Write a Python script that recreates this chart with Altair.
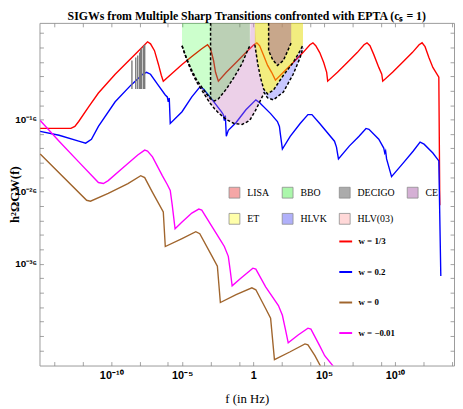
import altair as alt
import pandas as pd

TITLE = "SIGWs from Multiple Sharp Transitions confronted with EPTA (cₛ = 1)"
X_TITLE = "f (in Hz)"
Y_TITLE = "h²ΩGW(f)"

# axis ranges (log10 f, log10 h^2 Omega)
X_DOMAIN = [-15.05, 14.15]
Y_DOMAIN = [-50.1, -2.6]
TOP = -2.6

X_MAJOR = [-10, -5, 0, 5, 10]
X_MINOR = [-14, -12, -8, -6, -3, -1, 2, 4, 7, 9, 12, 14]
Y_MAJOR = [-16, -26, -36]
Y_MINOR = [-4, -6, -8, -10, -12, -14, -18, -20, -22, -24, -28, -30, -32, -34,
           -38, -40, -42, -44, -46, -48]

# ---- SIGW spectra (log10 f, log10 h^2 Omega_GW) ----
W_LABELS = ["w = 1/3", "w = 0.2", "w = 0", "w = −0.01"]
W_COLORS = ["#ff0000", "#0000ff", "#a0652d", "#ff00ff"]

RED_X = [-15.0, -12.84, -12.56, -12.29, -11.59, -10.90, -9.72, -8.61, -7.78, -7.44,
         -7.23, -6.95, -6.67, -6.47, -6.33, -5.70, -5.01, -4.32, -3.62, -3.21,
         -3.00, -2.79, -2.65, -2.45, -1.89, -1.20, -0.51, 0.05, 0.26, 0.46,
         0.74, 1.02, 1.30, 1.57, 2.13, 2.82, 3.51, 4.00, 4.21, 4.41,
         4.69, 4.97, 5.18, 5.25, 5.94, 6.63, 7.33, 7.81, 8.02, 8.23,
         8.50, 8.85, 9.06, 9.13, 9.82, 10.51, 11.21, 11.69, 11.90, 12.11,
         12.38, 12.66, 13.08, 13.15]
RED_Y = [-17.23, -17.23, -16.95, -16.27, -14.23, -12.32, -9.72, -7.54, -5.90, -5.22,
         -5.50, -6.45, -8.36, -9.86, -10.68, -9.59, -8.36, -7.27, -6.18, -5.63,
         -6.18, -7.81, -9.45, -10.68, -9.45, -8.09, -6.72, -5.63, -5.36, -5.77,
         -7.13, -8.50, -9.45, -10.54, -9.45, -8.09, -6.72, -5.63, -5.36, -5.77,
         -6.72, -8.09, -9.45, -10.68, -9.45, -8.09, -6.72, -5.63, -5.36, -5.77,
         -7.00, -8.77, -9.72, -10.68, -9.45, -8.09, -6.72, -5.63, -5.36, -5.90,
         -7.41, -8.77, -10.13, -27.87]

BLUE_X = [-15.0, -13.67, -12.29, -11.80, -11.39, -10.90, -9.72, -8.61, -7.78, -7.51,
          -7.23, -6.74, -6.19, -6.05, -5.98, -5.91, -5.84, -5.01, -4.32, -3.76,
          -3.49, -2.93, -2.24, -2.10, -2.03, -1.96, -1.89, -1.75, -1.20, -0.51,
          0.19, 0.46, 1.23, 1.71, 1.85, 1.92, 2.06, 2.61, 3.31, 3.86,
          4.14, 4.69, 5.73, 5.87, 5.94, 6.01, 6.77, 7.46, 7.95, 8.16,
          8.85, 9.20, 9.27, 9.33, 9.40, 9.75, 10.58, 11.28, 11.76, 12.04,
          12.66, 13.08, 13.22]
BLUE_Y = [-17.64, -18.18, -19.00, -19.27, -18.73, -16.95, -13.54, -11.23, -9.72, -9.45,
          -9.72, -11.09, -12.59, -12.86, -13.54, -13.00, -16.55, -14.91, -12.86, -11.50,
          -11.77, -13.14, -14.91, -15.32, -16.14, -15.45, -18.32, -17.50, -16.41, -14.64,
          -13.27, -13.68, -15.18, -16.27, -16.95, -18.05, -20.09, -18.32, -16.55, -15.32,
          -15.32, -16.55, -19.00, -19.82, -20.64, -21.46, -19.68, -18.32, -17.23, -17.36,
          -18.73, -19.96, -20.64, -20.36, -21.46, -23.91, -22.00, -20.36, -19.14, -19.41,
          -20.64, -21.73, -37.69]

BROWN_X = [-15.0, -11.73, -11.46, -10.21, -8.82, -7.92, -7.64, -7.09, -6.33, -6.19,
           -5.01, -4.04, -3.76, -2.93, -2.52, -2.31, -1.20, -0.09, 0.19, 0.88,
           1.23, 1.50, 2.61, 3.65, 3.86, 4.35, 4.76]
BROWN_Y = [-20.77, -27.19, -27.32, -26.23, -24.87, -23.78, -24.05, -26.09, -28.82, -33.60,
           -32.50, -31.55, -31.82, -34.82, -36.33, -41.37, -40.28, -39.32, -39.60, -42.19,
           -43.55, -49.28, -48.19, -47.10, -47.23, -48.74, -50.24]

MAG_X = [-15.0, -13.67, -12.29, -10.90, -10.55, -10.21, -9.17, -8.13, -7.64, -7.44,
         -7.09, -6.40, -6.05, -5.84, -5.70, -5.50, -5.01, -4.32, -3.83, -3.62,
         -2.93, -2.24, -2.03, -1.75, -1.61, -1.48, -0.85, -0.02, 0.19, 0.88,
         1.78, 2.06, 2.27, 2.47, 3.17, 3.86, 4.07, 4.69, 5.04, 5.66]
MAG_Y = [-16.14, -19.00, -21.87, -24.73, -24.87, -24.46, -22.68, -20.91, -20.23, -20.36,
         -21.18, -23.78, -25.00, -25.82, -27.87, -31.14, -30.19, -28.96, -28.41, -28.55,
         -30.73, -32.91, -33.60, -34.96, -37.00, -39.05, -37.96, -36.60, -36.73, -39.19,
         -41.78, -43.14, -45.05, -46.96, -45.87, -44.92, -45.05, -47.37, -48.74, -50.24]

# ---- EPTA-like grey bars ----
BAR_X = [-8.54, -8.27, -8.13, -7.99, -7.92, -7.85, -7.71, -7.64]
BAR_TOP = [-7.81, -7.41, -7.13, -6.72, -6.31, -6.04, -5.77, -5.63]
BAR_BOT = [-11.77] * 8

# ---- detector sensitivity regions ----
# legend fills column by column (2 rows): LISA/ET, BBO/HLVK, DECIGO/HLV(03), CE
DET_NAMES = ["LISA", "ET", "BBO", "HLVK", "DECIGO", "HLV(03)", "CE"]
DET_COLORS = ["#f5a6a6", "#ffffaa", "#abf7ab", "#b0b0fa", "#ababab", "#ffd8d8", "#d5b0d5"]

BBO_X = [-5.01, -4.66, -4.32, -3.97, -3.62, -3.28, -3.00, -2.72, -2.45, -1.89,
         -1.34, -0.78, -0.37, -0.23]
BBO_LO = [-5.77, -7.68, -9.18, -10.54, -11.50, -12.45, -13.14, -13.41, -13.14, -11.77,
          -10.13, -8.23, -6.31, -5.77]
DEC_X = BBO_X[6:]
DEC_LO = BBO_LO[6:]
CE_X = BBO_X + [-0.19, -0.09, 0.12, 0.33, 0.53, 0.74]
CE_LO = [-5.77, -7.81, -9.45, -10.82, -11.91, -13.00, -13.82, -14.50, -15.05, -16.00,
         -16.55, -16.68, -16.27, -16.00, -15.95, -15.59, -14.91, -14.09, -13.27, -12.45]
CE_HI = BBO_LO + [TOP, TOP, TOP, -8.36, -10.27, -11.77]
ET_X = [0.12, 0.33, 0.53, 0.74, 1.02, 1.43, 2.13, 2.82, 3.31, 3.51]
ET_LO = [-5.63, -8.36, -10.27, -11.77, -12.45, -11.91, -9.86, -8.09, -6.45, -5.63]
HLVK_X = [0.74, 1.02, 1.43, 2.13, 2.82, 3.31, 3.51]
HLVK_LO = [-12.18, -13.00, -13.27, -12.18, -9.72, -7.41, -6.04]
HLVK_HI = [-11.77, -12.45, -11.91, -9.86, -8.09, -6.45, -5.63]
LISA_X = [1.09, 1.37, 1.71, 2.13, 2.47, 2.68]
LISA_LO = [-6.45, -7.68, -8.50, -7.81, -6.31, -5.36]

# (name, x, lower, upper, fill, opacity) in drawing order
PATCHES = [
    ("CE", CE_X, CE_LO, CE_HI, "#c878be", 0.35),
    ("BBO", BBO_X, BBO_LO, [TOP] * len(BBO_X), "#00ff00", 0.2),
    ("DECIGO", DEC_X, DEC_LO, [TOP] * len(DEC_X), "#966482", 0.3),
    ("ET", ET_X, ET_LO, [TOP] * len(ET_X), "#e6dc00", 0.5),
    ("HLVK", HLVK_X, HLVK_LO, HLVK_HI, "#0000ff", 0.22),
    ("LISA", LISA_X, LISA_LO, [TOP] * len(LISA_X), "#9d6298", 0.5),
]

OUTLINES = [
    ("BBO", BBO_X, BBO_LO),
    ("DECIGO", [-3.00, -3.00], [TOP, -13.14]),
    ("CE", CE_X, CE_LO),
    ("ET", ET_X, ET_LO),
    ("HLVK", HLVK_X, HLVK_LO),
    ("LISA", [1.09] + LISA_X, [TOP] + LISA_LO),
]

# ---------------- build tables ----------------
def seq(name, xs, ys):
    return pd.DataFrame({"series": name, "lf": xs, "lo": ys, "idx": list(range(len(xs)))})

lines = pd.concat([
    seq(W_LABELS[0], RED_X, RED_Y),
    seq(W_LABELS[1], BLUE_X, BLUE_Y),
    seq(W_LABELS[2], BROWN_X, BROWN_Y),
    seq(W_LABELS[3], MAG_X, MAG_Y),
], ignore_index=True)

bars = pd.DataFrame({"lf": BAR_X, "top": BAR_TOP, "bot": BAR_BOT})
det_key = pd.DataFrame({"name": DET_NAMES, "lf": [100.0] * len(DET_NAMES), "lo": [100.0] * len(DET_NAMES)})

outline_df = pd.concat([
    pd.DataFrame({"grp": g, "lf": xs, "lo": ys, "idx": list(range(len(xs)))})
    for g, xs, ys in OUTLINES
], ignore_index=True)

xs = alt.Scale(domain=X_DOMAIN, nice=False, zero=False)
ys = alt.Scale(domain=Y_DOMAIN, nice=False, zero=False)

X_LABEL_EXPR = ("datum.value == -10 ? '10⁻¹⁰' : datum.value == -5 ? '10⁻⁵' : "
                "datum.value == 0 ? '1' : datum.value == 5 ? '10⁵' : '10¹⁰'")
Y_LABEL_EXPR = ("datum.value == -16 ? '10⁻¹⁶' : datum.value == -26 ? '10⁻²⁶' : '10⁻³⁶'")

x_main = alt.Axis(orient="bottom", values=X_MAJOR, labelExpr=X_LABEL_EXPR, ticks=False, tickSize=0,
                  domain=False, grid=False, title=X_TITLE, labelFont="Liberation Sans",
                  labelFontWeight="bold", labelFontSize=11, labelColor="black", labelPadding=4,
                  labelFlush=False, titleFont="Liberation Serif", titleFontSize=13,
                  titleFontWeight="normal", titleColor="black", titlePadding=13)
y_main = alt.Axis(orient="left", values=Y_MAJOR, labelExpr=Y_LABEL_EXPR, ticks=False, tickSize=0,
                  domain=False, grid=False, title=Y_TITLE, labelFont="Liberation Sans",
                  labelFontWeight="bold", labelFontSize=10, labelColor="black", labelPadding=3,
                  labelFlush=False, titleFont="Liberation Serif", titleFontSize=13,
                  titleFontWeight="bold", titleColor="black", titleX=-21,
                  titleBaseline="alphabetic")

def tick_axis(orient, values):
    return alt.Axis(orient=orient, values=values, offset=-4, labels=False, domain=False,
                    ticks=True, tickSize=4, tickColor="#8a8a8a", tickWidth=0.8,
                    grid=False, title=None)

line_layer = alt.Chart(lines).mark_line(strokeWidth=1.4, clip=True).encode(
    x=alt.X("lf:Q", scale=xs, axis=x_main),
    y=alt.Y("lo:Q", scale=ys, axis=y_main),
    color=alt.Color("series:N", scale=alt.Scale(domain=W_LABELS, range=W_COLORS),
                    legend=alt.Legend(title=None, orient="none", legendX=303, legendY=214,
                                      symbolType="stroke", symbolStrokeWidth=2, symbolSize=170,
                                      labelFont="Liberation Serif", labelFontWeight="bold",
                                      labelFontSize=9, labelColor="black", rowPadding=18,
                                      padding=0, labelOffset=5)),
    order="idx:Q",
)

bar_layer = alt.Chart(bars).mark_rule(color="#7a7a7a", strokeWidth=1.4).encode(
    x=alt.X("lf:Q", scale=xs, axis=tick_axis("bottom", X_MAJOR + X_MINOR)),
    y=alt.Y("top:Q", scale=ys, axis=tick_axis("left", Y_MAJOR + Y_MINOR)),
    y2="bot:Q",
)

patch_layers = []
for name, px, plo, phi, col, op in PATCHES:
    d = pd.DataFrame({"lf": px, "lo": plo, "hi": phi})
    patch_layers.append(
        alt.Chart(d).mark_area(color=col, fillOpacity=op, clip=True, interpolate="linear").encode(
            x=alt.X("lf:Q", scale=xs, axis=None),
            y=alt.Y("lo:Q", scale=ys, axis=None, stack=None),
            y2="hi:Q",
        )
    )

outline_layer = alt.Chart(outline_df).mark_line(color="black", strokeDash=[3, 2], strokeWidth=1.5,
                                                 clip=True).encode(
    x=alt.X("lf:Q", scale=xs, axis=None),
    y=alt.Y("lo:Q", scale=ys, axis=None),
    detail="grp:N",
    order="idx:Q",
)

key_layer = alt.Chart(det_key).mark_square(size=100, opacity=1, clip=True).encode(
    x=alt.X("lf:Q", scale=xs, axis=tick_axis("top", X_MAJOR + X_MINOR)),
    y=alt.Y("lo:Q", scale=ys, axis=tick_axis("right", Y_MAJOR + Y_MINOR)),
    fill=alt.Fill("name:N", scale=alt.Scale(domain=DET_NAMES, range=DET_COLORS),
                  legend=alt.Legend(title=None, orient="none", legendX=192, legendY=166, columns=4,
                                    symbolType="square", symbolSize=121,
                                    symbolStrokeColor="#8c8c8c", symbolStrokeWidth=0.8,
                                    symbolOpacity=1, labelFont="Liberation Serif",
                                    labelFontSize=10, labelColor="black", columnPadding=10,
                                    rowPadding=11, labelOffset=7, padding=0)),
)

chart = alt.layer(line_layer, bar_layer, *patch_layers, outline_layer, key_layer).resolve_axis(
    x="independent", y="independent"
).resolve_scale(color="independent", fill="independent").properties(
    width=421,
    height=348,
    padding={"left": 32, "top": 12, "right": 1, "bottom": 39},
    autosize=alt.AutoSizeParams(type="none"),
    background="white",
    title=alt.TitleParams(text=TITLE, font="Liberation Serif", fontSize=12, fontWeight="bold",
                          anchor="middle", offset=4, dy=13, baseline="alphabetic", color="black"),
).configure_view(stroke="#9a9a9a", strokeWidth=1)

chart.save("out.html", embed_options={"renderer": "svg", "actions": False})
